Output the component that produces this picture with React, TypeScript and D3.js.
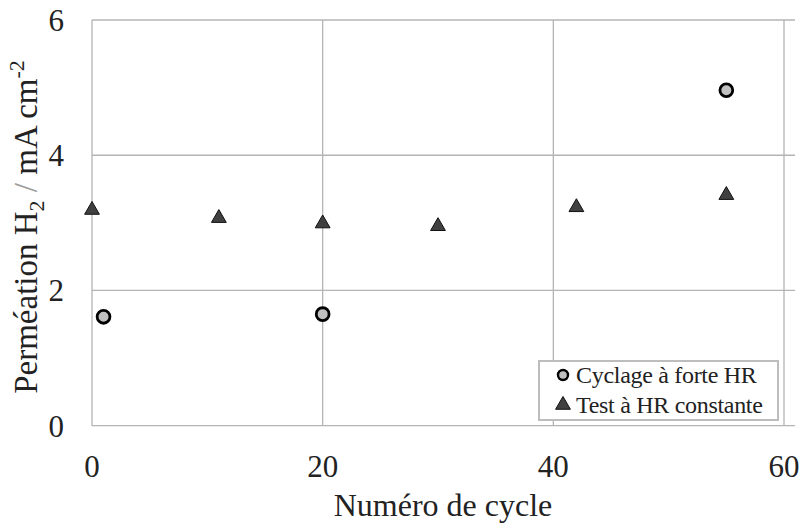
import React from "react";
import * as d3 from "d3";

const circleX = [1, 20, 55];
const circleY = [1.61, 1.65, 4.96];
const triX = [0, 11, 20, 30, 42, 55];
const triY = [3.19, 3.07, 2.99, 2.95, 3.23, 3.41];
const xTicks = [0, 20, 40, 60];
const yTicks = [0, 2, 4, 6];
const seriesNames = ["Cyclage à forte HR", "Test à HR constante"];
const xTitle = "Numéro de cycle";

const W = 803;
const H = 527;
const FONT = "Liberation Serif";

export default function App() {
  const x = d3.scaleLinear().domain([0, 60]).range([92, 784]);
  const y = d3.scaleLinear().domain([0, 6]).range([425.7, 20]);
  const plotRight = 795;
  const tri = d3.symbol().type(d3.symbolTriangle).size(95);
  const triPath = tri() as string;
  const ts = { fontFamily: FONT };

  return (
    <svg
      width={W}
      height={H}
      style={{ position: "absolute", left: 0, top: 0, background: "#fff", fontFamily: FONT }}
    >
      <rect x={0} y={0} width={W} height={H} fill="#fff" />
      {yTicks.map((t) => (
        <line
          key={"h" + t}
          x1={x(0)}
          x2={plotRight}
          y1={y(t)}
          y2={y(t)}
          stroke="#b4b4b4"
          strokeWidth={1.3}
        />
      ))}
      {xTicks.map((t) => (
        <line
          key={"v" + t}
          x1={x(t)}
          x2={x(t)}
          y1={y(6)}
          y2={y(0)}
          stroke="#b4b4b4"
          strokeWidth={1.3}
        />
      ))}
      {yTicks.map((t) => (
        <text
          key={"yl" + t}
          x={64}
          y={y(t)}
          dy="0.35em"
          textAnchor="end"
          fontSize={31}
          fill="#222"
          style={ts}
        >
          {t}
        </text>
      ))}
      {xTicks.map((t) => (
        <text
          key={"xl" + t}
          x={x(t)}
          y={477}
          textAnchor="middle"
          fontSize={31}
          fill="#222"
          style={ts}
        >
          {t}
        </text>
      ))}
      <text x={443} y={516} textAnchor="middle" fontSize={32} fill="#222" style={ts}>
        {xTitle}
      </text>
      <text
        transform={`translate(37, 227) rotate(-90)`}
        textAnchor="middle"
        fontSize={33}
        fill="#222"
        style={ts}
      >
        <tspan>Perméation H</tspan>
        <tspan fontSize={22} dy={7}>2</tspan>
        <tspan dy={-7} fill="#9a9a9a"> / </tspan>
        <tspan>mA cm</tspan>
        <tspan fontSize={22} dy={-13}>-2</tspan>
      </text>
      {triX.map((v, i) => (
        <path
          key={"t" + i}
          d={triPath}
          transform={`translate(${x(v)}, ${y(triY[i])})`}
          fill="#404040"
          stroke="#111"
          strokeWidth={1}
        />
      ))}
      {circleX.map((v, i) => (
        <circle
          key={"c" + i}
          cx={x(v)}
          cy={y(circleY[i])}
          r={6.4}
          fill="#c0c0c0"
          stroke="#000"
          strokeWidth={2.8}
        />
      ))}
      <rect
        x={539}
        y={361}
        width={239}
        height={59}
        fill="#fff"
        stroke="#bdbdbd"
        strokeWidth={2}
      />
      <circle cx={563} cy={375} r={5} fill="#c0c0c0" stroke="#000" strokeWidth={2.4} />
      <path d={triPath} transform="translate(563, 405)" fill="#404040" stroke="#111" strokeWidth={1} />
      <text x={576} y={383} fontSize={24} fill="#222" letterSpacing={-0.3} style={ts}>
        {seriesNames[0]}
      </text>
      <text x={576} y={413} fontSize={24} fill="#222" letterSpacing={-0.3} style={ts}>
        {seriesNames[1]}
      </text>
    </svg>
  );
}
